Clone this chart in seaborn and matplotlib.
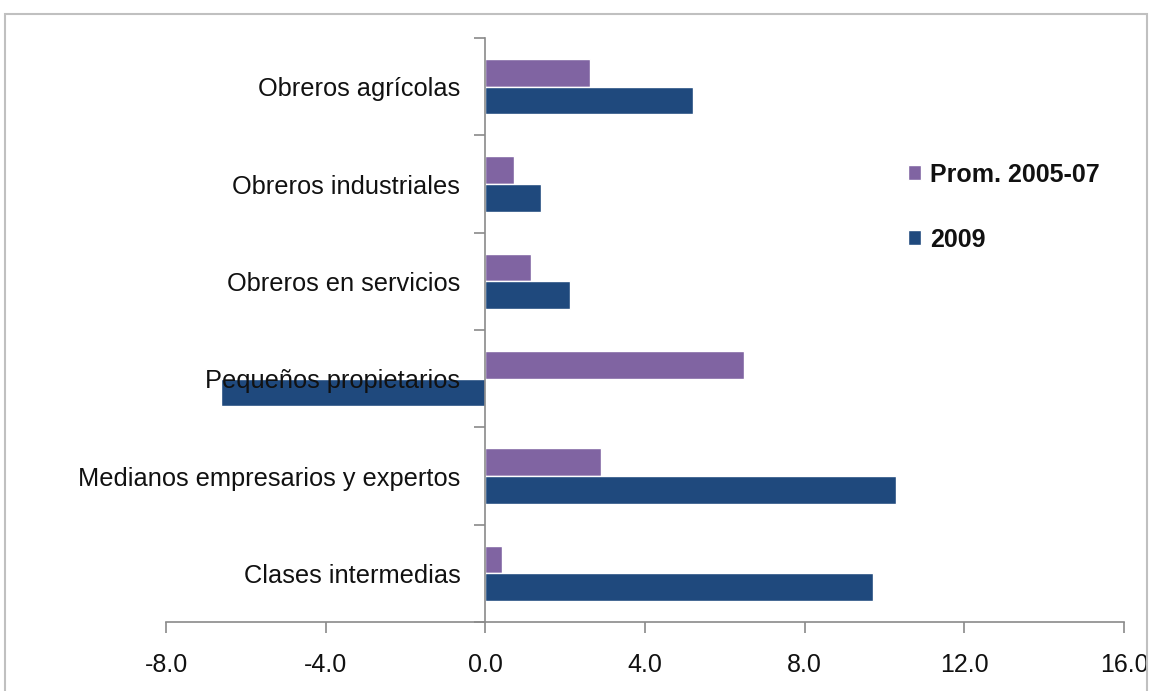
import matplotlib
matplotlib.use("Agg")
import matplotlib.pyplot as plt
import seaborn as sns
import pandas as pd
import numpy as np
from matplotlib.patches import Rectangle
from matplotlib.ticker import FixedLocator, FormatStrFormatter

categories = ["Obreros agrícolas", "Obreros industriales", "Obreros en servicios",
              "Pequeños propietarios", "Medianos empresarios y expertos", "Clases intermedias"]
prom_2005_07 = [2.63, 0.73, 1.15, 6.49, 2.91, 0.43]
y2009 = [5.19, 1.40, 2.13, -6.62, 10.30, 9.70]
series_names = ["Prom. 2005-07", "2009"]
xticks = [-8.0, -4.0, 0.0, 4.0, 8.0, 12.0, 16.0]

df = pd.DataFrame({
    "cat": categories * 2,
    "val": prom_2005_07 + y2009,
    "serie": [series_names[0]] * len(categories) + [series_names[1]] * len(categories),
})

sns.set_theme(style="white")
plt.rcParams["font.family"] = ["Liberation Sans", "DejaVu Sans"]

fig = plt.figure(figsize=(11.49, 6.91), dpi=100)
ax = fig.add_axes([166/1149, 1 - 622/691, (1124 - 166)/1149, (622 - 38)/691])

palette = {"Prom. 2005-07": "#8064A2", "2009": "#1F497D"}
sns.barplot(data=df, y="cat", x="val", hue="serie", palette=palette, orient="h",
            width=0.57, ax=ax, saturation=1, legend=True, order=categories,
            hue_order=series_names)
for p in ax.patches:
    p.set_zorder(1)

ax.set_xlim(-8, 16)
ax.set_ylim(5.5, -0.5)
ax.set_xlabel("")
ax.set_ylabel("")
ax.xaxis.set_major_locator(FixedLocator(xticks))
ax.xaxis.set_major_formatter(FormatStrFormatter("%.1f"))

axis_col = "#8a8a8a"
for s in ["top", "right"]:
    ax.spines[s].set_visible(False)
ax.spines["left"].set_position(("data", 0))
ax.spines["left"].set_color(axis_col)
ax.spines["bottom"].set_color(axis_col)
ax.spines["left"].set_linewidth(1.2)
ax.spines["bottom"].set_linewidth(1.2)

ax.tick_params(axis="x", direction="out", length=8, width=1.2, color=axis_col,
               labelsize=18, pad=14, bottom=True)
ax.tick_params(axis="y", which="major", length=0, pad=18, labelsize=18.3, left=False)
ax.set_yticks(np.arange(-0.5, 6.0, 1.0), minor=True)
ax.tick_params(axis="y", which="minor", direction="out", length=8, width=1.2,
               color=axis_col, left=True)
for t in ax.get_xticklabels():
    t.set_color("#111111")
for t in ax.get_yticklabels():
    t.set_color("#111111")
ax.yaxis.set_zorder(10)

leg = ax.legend(loc="upper left", bbox_to_anchor=(885/1149, 1 - 140/691),
                bbox_transform=fig.transFigure, frameon=False,
                prop={"weight": "bold", "size": 18}, handlelength=0.55,
                handleheight=0.55, handletextpad=0.35, labelspacing=1.65)
for t in leg.get_texts():
    t.set_color("#111111")

fig.patches.append(Rectangle((5/1149, -0.05), (1147 - 5)/1149, 1 - 14/691 + 0.05,
                             transform=fig.transFigure, fill=False,
                             edgecolor="#c0c0c0", linewidth=1.5, zorder=0))

fig.savefig("out.png", dpi=100)
